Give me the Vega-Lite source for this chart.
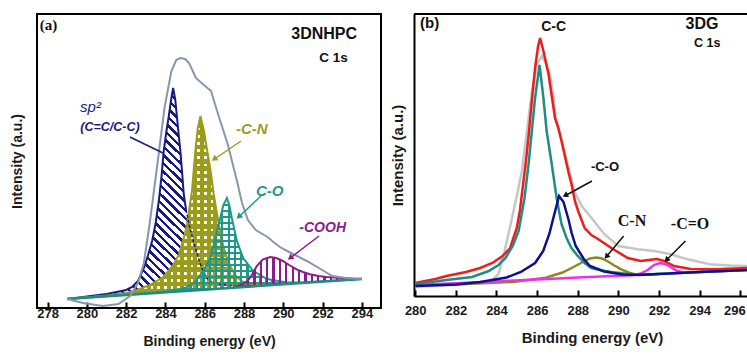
{
"$schema":"https://vega.github.io/schema/vega-lite/v6.json",
"background":"white",
"padding":{"left":9,"top":13,"right":0,"bottom":0},
"spacing":8,
"config":{"font":"Liberation Sans","view":{"stroke":"black","strokeWidth":2},
"axis":{"labelFont":"Liberation Sans","titleFont":"Liberation Sans","titleFontWeight":"bold","labelFontWeight":"bold","labelColor":"#1a1a1a","titleColor":"#1a1a1a","grid":false,"domainColor":"black","domainWidth":2,"tickColor":"black","tickWidth":2}},
"datasets":{
"a":[
{"s":"env","x":279,"y":9},{"s":"env","x":279.8,"y":5},{"s":"env","x":280.8,"y":2},{"s":"env","x":281.6,"y":4},{"s":"env","x":282.2,"y":12},{"s":"env","x":282.6,"y":25},{"s":"env","x":282.9,"y":45},{"s":"env","x":283.2,"y":85},{"s":"env","x":283.55,"y":138},{"s":"env","x":283.95,"y":200},{"s":"env","x":284.3,"y":237},{"s":"env","x":284.55,"y":248},{"s":"env","x":284.75,"y":250},{"s":"env","x":285.0,"y":249},{"s":"env","x":285.2,"y":245},{"s":"env","x":285.55,"y":230},{"s":"env","x":285.9,"y":224},{"s":"env","x":286.32,"y":217},{"s":"env","x":286.74,"y":190},{"s":"env","x":287.17,"y":164},{"s":"env","x":287.68,"y":124},{"s":"env","x":287.9,"y":105},{"s":"env","x":288.2,"y":88},{"s":"env","x":288.6,"y":78},{"s":"env","x":289.2,"y":71},{"s":"env","x":289.5,"y":66},{"s":"env","x":289.9,"y":60},{"s":"env","x":290.5,"y":54},{"s":"env","x":291.2,"y":47},{"s":"env","x":291.9,"y":39},{"s":"env","x":292.5,"y":32},{"s":"env","x":293.2,"y":30},{"s":"env","x":294,"y":29},
{"s":"sp2","x":279,"y":9,"b":9},{"s":"sp2","x":280,"y":11.5,"b":10.3},{"s":"sp2","x":281,"y":14,"b":11.7},{"s":"sp2","x":282,"y":18,"b":13},{"s":"sp2","x":282.3,"y":21,"b":13.4},{"s":"sp2","x":282.6,"y":27,"b":13.8},{"s":"sp2","x":282.9,"y":40,"b":14.2},{"s":"sp2","x":283.1,"y":52,"b":14.5},{"s":"sp2","x":283.32,"y":67,"b":14.8},{"s":"sp2","x":283.5,"y":85,"b":15},{"s":"sp2","x":283.66,"y":107,"b":15.2},{"s":"sp2","x":283.8,"y":132,"b":15.4},{"s":"sp2","x":283.91,"y":157,"b":15.5},{"s":"sp2","x":284.05,"y":177,"b":15.7},{"s":"sp2","x":284.17,"y":192,"b":15.9},{"s":"sp2","x":284.3,"y":210,"b":16.1},{"s":"sp2","x":284.39,"y":220,"b":16.2},{"s":"sp2","x":284.5,"y":208,"b":16.3},{"s":"sp2","x":284.59,"y":190,"b":16.5},{"s":"sp2","x":284.68,"y":172,"b":16.6},{"s":"sp2","x":284.76,"y":157,"b":16.7},{"s":"sp2","x":284.85,"y":135,"b":16.8},{"s":"sp2","x":284.93,"y":114,"b":16.9},{"s":"sp2","x":285.05,"y":98,"b":17.1},{"s":"sp2","x":285.2,"y":84,"b":17.3},{"s":"sp2","x":285.4,"y":68,"b":17.5},{"s":"sp2","x":285.6,"y":55,"b":17.8},{"s":"sp2","x":285.85,"y":40,"b":18.1},{"s":"sp2","x":286.1,"y":30,"b":18.5},{"s":"sp2","x":286.4,"y":25.5,"b":18.9},{"s":"sp2","x":286.8,"y":23.5,"b":19.4},{"s":"sp2","x":287.3,"y":22.5,"b":20.1},{"s":"sp2","x":288,"y":22,"b":21},{"s":"sp2","x":289,"y":22.5,"b":22.3},{"s":"sp2","x":290,"y":23.7,"b":23.7},
{"s":"cn","x":279,"y":9.5,"b":9},{"s":"cn","x":280,"y":10.8,"b":10.3},{"s":"cn","x":281,"y":12.5,"b":11.7},{"s":"cn","x":282,"y":15,"b":13},{"s":"cn","x":282.5,"y":17.5,"b":13.7},{"s":"cn","x":283.2,"y":23,"b":14.6},{"s":"cn","x":283.9,"y":31,"b":15.5},{"s":"cn","x":284.4,"y":43,"b":16.2},{"s":"cn","x":284.7,"y":54,"b":16.6},{"s":"cn","x":285.0,"y":75,"b":17},{"s":"cn","x":285.1,"y":84,"b":17.1},{"s":"cn","x":285.35,"y":117,"b":17.5},{"s":"cn","x":285.52,"y":157,"b":17.7},{"s":"cn","x":285.65,"y":180,"b":17.9},{"s":"cn","x":285.78,"y":192,"b":18},{"s":"cn","x":285.95,"y":178,"b":18.3},{"s":"cn","x":286.13,"y":157,"b":18.5},{"s":"cn","x":286.3,"y":137,"b":18.7},{"s":"cn","x":286.45,"y":115,"b":18.9},{"s":"cn","x":286.6,"y":97,"b":19.1},{"s":"cn","x":286.84,"y":70,"b":19.5},{"s":"cn","x":287.05,"y":55,"b":19.7},{"s":"cn","x":287.25,"y":44,"b":20},{"s":"cn","x":287.55,"y":33,"b":20.4},{"s":"cn","x":287.86,"y":27,"b":20.8},{"s":"cn","x":288.2,"y":24.5,"b":21.3},{"s":"cn","x":288.7,"y":23,"b":21.9},{"s":"cn","x":289.5,"y":23,"b":23},
{"s":"co","x":279,"y":9,"b":9},{"s":"co","x":281,"y":11.9,"b":11.7},{"s":"co","x":283,"y":14.8,"b":14.3},{"s":"co","x":284,"y":16.5,"b":15.7},{"s":"co","x":285,"y":20,"b":17},{"s":"co","x":285.5,"y":26,"b":17.7},{"s":"co","x":285.93,"y":37,"b":18.3},{"s":"co","x":286.28,"y":50,"b":18.7},{"s":"co","x":286.54,"y":70,"b":19.1},{"s":"co","x":286.79,"y":90,"b":19.4},{"s":"co","x":286.95,"y":103,"b":19.6},{"s":"co","x":287.13,"y":110,"b":19.8},{"s":"co","x":287.25,"y":103,"b":20},{"s":"co","x":287.38,"y":90,"b":20.2},{"s":"co","x":287.64,"y":67,"b":20.5},{"s":"co","x":287.96,"y":50,"b":20.9},{"s":"co","x":288.47,"y":37,"b":21.6},{"s":"co","x":289.17,"y":29,"b":22.6},{"s":"co","x":290.2,"y":25.5,"b":24},{"s":"co","x":291,"y":25.8,"b":25},{"s":"co","x":292,"y":26.8,"b":26.3},{"s":"co","x":294,"y":29,"b":29},
{"s":"cooh","x":287.5,"y":21,"b":20.7},{"s":"cooh","x":287.9,"y":23.5,"b":21.2},{"s":"cooh","x":288.2,"y":27.5,"b":21.6},{"s":"cooh","x":288.4,"y":33,"b":21.9},{"s":"cooh","x":288.65,"y":42,"b":22.2},{"s":"cooh","x":288.95,"y":48.5,"b":22.6},{"s":"cooh","x":289.33,"y":51,"b":23.1},{"s":"cooh","x":289.65,"y":50,"b":23.5},{"s":"cooh","x":289.98,"y":47,"b":24},{"s":"cooh","x":290.3,"y":43,"b":24.4},{"s":"cooh","x":290.68,"y":38.7,"b":24.9},{"s":"cooh","x":291,"y":36,"b":25.3},{"s":"cooh","x":291.36,"y":33.7,"b":25.8},{"s":"cooh","x":291.8,"y":32,"b":26.4},{"s":"cooh","x":292.2,"y":31,"b":26.9},{"s":"cooh","x":292.6,"y":30.5,"b":27.5},{"s":"cooh","x":293,"y":30,"b":28},{"s":"cooh","x":293.5,"y":29.5,"b":28.7},{"s":"cooh","x":294,"y":29.3,"b":29},
{"s":"base","x":279,"y":9},{"s":"base","x":294,"y":29}
],
"b":[
{"s":"env","x":280,"y":9},{"s":"env","x":281,"y":10},{"s":"env","x":282,"y":11},{"s":"env","x":283.3,"y":13},{"s":"env","x":283.8,"y":16},{"s":"env","x":284.1,"y":22},{"s":"env","x":284.4,"y":45},{"s":"env","x":284.7,"y":72},{"s":"env","x":285.0,"y":100},{"s":"env","x":285.25,"y":125},{"s":"env","x":285.5,"y":165},{"s":"env","x":285.75,"y":205},{"s":"env","x":286.0,"y":232},{"s":"env","x":286.23,"y":240},{"s":"env","x":286.45,"y":232},{"s":"env","x":286.63,"y":222},{"s":"env","x":286.8,"y":200},{"s":"env","x":286.9,"y":180},{"s":"env","x":287.05,"y":165},{"s":"env","x":287.2,"y":157},{"s":"env","x":287.5,"y":132},{"s":"env","x":287.85,"y":104},{"s":"env","x":288.2,"y":90},{"s":"env","x":288.6,"y":80},{"s":"env","x":289.3,"y":62},{"s":"env","x":290,"y":50},{"s":"env","x":290.95,"y":46.7},{"s":"env","x":291.76,"y":45},{"s":"env","x":292.58,"y":41.7},{"s":"env","x":293.4,"y":36.7},{"s":"env","x":294.5,"y":31.7},{"s":"env","x":295.5,"y":30.5},{"s":"env","x":296.43,"y":30},
{"s":"fit","x":280,"y":13},{"s":"fit","x":281,"y":17},{"s":"fit","x":281.54,"y":20},{"s":"fit","x":282.5,"y":24},{"s":"fit","x":283.2,"y":28},{"s":"fit","x":283.8,"y":33},{"s":"fit","x":284.3,"y":40},{"s":"fit","x":284.67,"y":48},{"s":"fit","x":285.0,"y":68},{"s":"fit","x":285.15,"y":85},{"s":"fit","x":285.3,"y":110},{"s":"fit","x":285.45,"y":135},{"s":"fit","x":285.58,"y":160},{"s":"fit","x":285.74,"y":195},{"s":"fit","x":285.9,"y":228},{"s":"fit","x":286.05,"y":250},{"s":"fit","x":286.15,"y":258},{"s":"fit","x":286.31,"y":245},{"s":"fit","x":286.56,"y":222},{"s":"fit","x":286.88,"y":178},{"s":"fit","x":287.05,"y":168},{"s":"fit","x":287.2,"y":155},{"s":"fit","x":287.53,"y":125},{"s":"fit","x":287.69,"y":112},{"s":"fit","x":287.86,"y":95},{"s":"fit","x":288.02,"y":85},{"s":"fit","x":288.34,"y":68},{"s":"fit","x":288.67,"y":61},{"s":"fit","x":289,"y":57},{"s":"fit","x":289.65,"y":48},{"s":"fit","x":290.46,"y":38},{"s":"fit","x":291.11,"y":35},{"s":"fit","x":291.5,"y":36},{"s":"fit","x":291.9,"y":37},{"s":"fit","x":292.25,"y":35},{"s":"fit","x":292.74,"y":30},{"s":"fit","x":293.56,"y":27},{"s":"fit","x":294.7,"y":26.7},{"s":"fit","x":296.43,"y":28},
{"s":"cc","x":280,"y":11.7},{"s":"cc","x":281.54,"y":16},{"s":"cc","x":282.8,"y":19},{"s":"cc","x":283.62,"y":25},{"s":"cc","x":284.1,"y":31},{"s":"cc","x":284.44,"y":38},{"s":"cc","x":284.8,"y":50},{"s":"cc","x":285.09,"y":65},{"s":"cc","x":285.38,"y":98},{"s":"cc","x":285.58,"y":132},{"s":"cc","x":285.74,"y":165},{"s":"cc","x":285.9,"y":198},{"s":"cc","x":286.12,"y":231},{"s":"cc","x":286.31,"y":198},{"s":"cc","x":286.47,"y":165},{"s":"cc","x":286.72,"y":132},{"s":"cc","x":286.96,"y":98},{"s":"cc","x":287.2,"y":72},{"s":"cc","x":287.45,"y":58},{"s":"cc","x":287.69,"y":48},{"s":"cc","x":288,"y":40},{"s":"cc","x":288.34,"y":33},{"s":"cc","x":288.67,"y":28},{"s":"cc","x":289.2,"y":25.5},{"s":"cc","x":289.65,"y":24},{"s":"cc","x":290.5,"y":22},{"s":"cc","x":291.5,"y":21.8},{"s":"cc","x":292.5,"y":22.5},{"s":"cc","x":294,"y":23.9},{"s":"cc","x":296.43,"y":26.1},
{"s":"co","x":280,"y":10},{"s":"co","x":282,"y":11.5},{"s":"co","x":283.2,"y":14},{"s":"co","x":284.5,"y":18.5},{"s":"co","x":285.2,"y":24},{"s":"co","x":285.9,"y":33},{"s":"co","x":286.3,"y":45},{"s":"co","x":286.6,"y":62},{"s":"co","x":286.85,"y":82},{"s":"co","x":287.08,"y":100},{"s":"co","x":287.3,"y":94},{"s":"co","x":287.55,"y":76},{"s":"co","x":287.7,"y":63},{"s":"co","x":287.9,"y":50},{"s":"co","x":288.3,"y":37},{"s":"co","x":288.6,"y":30},{"s":"co","x":289.3,"y":24.5},{"s":"co","x":290.2,"y":21.5},{"s":"co","x":291,"y":21},{"s":"co","x":292,"y":22},{"s":"co","x":294,"y":23.9},{"s":"co","x":296.43,"y":26.1},
{"s":"cn","x":280,"y":10.5},{"s":"cn","x":281.54,"y":11.5},{"s":"cn","x":283,"y":12.5},{"s":"cn","x":284.81,"y":14},{"s":"cn","x":286.42,"y":18.3},{"s":"cn","x":287.25,"y":23.5},{"s":"cn","x":287.7,"y":28},{"s":"cn","x":288.25,"y":34},{"s":"cn","x":288.6,"y":37.5},{"s":"cn","x":288.92,"y":38.5},{"s":"cn","x":289.2,"y":37.5},{"s":"cn","x":289.49,"y":34.5},{"s":"cn","x":289.8,"y":30.5},{"s":"cn","x":290.14,"y":26.7},{"s":"cn","x":290.5,"y":23.5},{"s":"cn","x":290.8,"y":21.7},{"s":"cn","x":291.44,"y":21.2},{"s":"cn","x":292,"y":22},
{"s":"ceo","x":280,"y":11},{"s":"ceo","x":282,"y":12.8},{"s":"ceo","x":284,"y":14.7},{"s":"ceo","x":286,"y":16.5},{"s":"ceo","x":288,"y":18.4},{"s":"ceo","x":290,"y":20.2},{"s":"ceo","x":290.7,"y":20.8},{"s":"ceo","x":291.1,"y":22.5},{"s":"ceo","x":291.44,"y":26},{"s":"ceo","x":291.75,"y":31},{"s":"ceo","x":292.05,"y":33},{"s":"ceo","x":292.3,"y":32},{"s":"ceo","x":292.58,"y":29},{"s":"ceo","x":292.85,"y":25.5},{"s":"ceo","x":293.2,"y":23.6},{"s":"ceo","x":294,"y":23.9},{"s":"ceo","x":296.43,"y":26.1}
]},
"hconcat":[
{"width":344,"height":294,
"layer":[
{"data":{"name":"a"},
"encoding":{
"x":{"field":"x","type":"quantitative","scale":{"domain":[277.455,294.98],"nice":false,"zero":false},
"axis":{"title":"Binding energy (eV)","titleFontSize":14,"titlePadding":14,"labelFontSize":13,"values":[278,279,280,281,282,283,284,285,286,287,288,289,290,291,292,293,294],"labelExpr":"datum.value % 2 == 0 ? datum.label : ''","tickSize":{"condition":{"test":"datum.value % 2 == 1","value":-3},"value":-6},"labelPadding":5,"domain":false,"labelFlush":false,"labelOverlap":false}},
"y":{"field":"y","type":"quantitative","scale":{"domain":[0,294],"nice":false,"zero":false},
"axis":{"title":"Intensity (a.u.)","labels":false,"ticks":false,"domain":false,"titleFontSize":14,"titlePadding":13}}},
"layer":[
{"transform":[{"filter":"datum.s=='sp2'"}],"mark":{"type":"area","fill":{"gradient":"linear","x1":0,"y1":1,"x2":1,"y2":0,"stops":[
{"offset":0,"color":"#1a1a80"},{"offset":0.008,"color":"#1a1a80"},{"offset":0.008,"color":"rgba(255,255,255,0)"},{"offset":0.02,"color":"rgba(255,255,255,0)"},
{"offset":0.02,"color":"#1a1a80"},{"offset":0.028,"color":"#1a1a80"},{"offset":0.028,"color":"rgba(255,255,255,0)"},{"offset":0.04,"color":"rgba(255,255,255,0)"},
{"offset":0.04,"color":"#1a1a80"},{"offset":0.048,"color":"#1a1a80"},{"offset":0.048,"color":"rgba(255,255,255,0)"},{"offset":0.06,"color":"rgba(255,255,255,0)"},
{"offset":0.06,"color":"#1a1a80"},{"offset":0.068,"color":"#1a1a80"},{"offset":0.068,"color":"rgba(255,255,255,0)"},{"offset":0.08,"color":"rgba(255,255,255,0)"},
{"offset":0.08,"color":"#1a1a80"},{"offset":0.088,"color":"#1a1a80"},{"offset":0.088,"color":"rgba(255,255,255,0)"},{"offset":0.1,"color":"rgba(255,255,255,0)"},
{"offset":0.1,"color":"#1a1a80"},{"offset":0.108,"color":"#1a1a80"},{"offset":0.108,"color":"rgba(255,255,255,0)"},{"offset":0.12,"color":"rgba(255,255,255,0)"},
{"offset":0.12,"color":"#1a1a80"},{"offset":0.128,"color":"#1a1a80"},{"offset":0.128,"color":"rgba(255,255,255,0)"},{"offset":0.14,"color":"rgba(255,255,255,0)"},
{"offset":0.14,"color":"#1a1a80"},{"offset":0.148,"color":"#1a1a80"},{"offset":0.148,"color":"rgba(255,255,255,0)"},{"offset":0.16,"color":"rgba(255,255,255,0)"},
{"offset":0.16,"color":"#1a1a80"},{"offset":0.168,"color":"#1a1a80"},{"offset":0.168,"color":"rgba(255,255,255,0)"},{"offset":0.18,"color":"rgba(255,255,255,0)"},
{"offset":0.18,"color":"#1a1a80"},{"offset":0.188,"color":"#1a1a80"},{"offset":0.188,"color":"rgba(255,255,255,0)"},{"offset":0.2,"color":"rgba(255,255,255,0)"},
{"offset":0.2,"color":"#1a1a80"},{"offset":0.208,"color":"#1a1a80"},{"offset":0.208,"color":"rgba(255,255,255,0)"},{"offset":0.22,"color":"rgba(255,255,255,0)"},
{"offset":0.22,"color":"#1a1a80"},{"offset":0.228,"color":"#1a1a80"},{"offset":0.228,"color":"rgba(255,255,255,0)"},{"offset":0.24,"color":"rgba(255,255,255,0)"},
{"offset":0.24,"color":"#1a1a80"},{"offset":0.248,"color":"#1a1a80"},{"offset":0.248,"color":"rgba(255,255,255,0)"},{"offset":0.26,"color":"rgba(255,255,255,0)"},
{"offset":0.26,"color":"#1a1a80"},{"offset":0.268,"color":"#1a1a80"},{"offset":0.268,"color":"rgba(255,255,255,0)"},{"offset":0.28,"color":"rgba(255,255,255,0)"},
{"offset":0.28,"color":"#1a1a80"},{"offset":0.288,"color":"#1a1a80"},{"offset":0.288,"color":"rgba(255,255,255,0)"},{"offset":0.3,"color":"rgba(255,255,255,0)"},
{"offset":0.3,"color":"#1a1a80"},{"offset":0.308,"color":"#1a1a80"},{"offset":0.308,"color":"rgba(255,255,255,0)"},{"offset":0.32,"color":"rgba(255,255,255,0)"},
{"offset":0.32,"color":"#1a1a80"},{"offset":0.328,"color":"#1a1a80"},{"offset":0.328,"color":"rgba(255,255,255,0)"},{"offset":0.34,"color":"rgba(255,255,255,0)"},
{"offset":0.34,"color":"#1a1a80"},{"offset":0.348,"color":"#1a1a80"},{"offset":0.348,"color":"rgba(255,255,255,0)"},{"offset":0.36,"color":"rgba(255,255,255,0)"},
{"offset":0.36,"color":"#1a1a80"},{"offset":0.368,"color":"#1a1a80"},{"offset":0.368,"color":"rgba(255,255,255,0)"},{"offset":0.38,"color":"rgba(255,255,255,0)"},
{"offset":0.38,"color":"#1a1a80"},{"offset":0.388,"color":"#1a1a80"},{"offset":0.388,"color":"rgba(255,255,255,0)"},{"offset":0.4,"color":"rgba(255,255,255,0)"},
{"offset":0.4,"color":"#1a1a80"},{"offset":0.408,"color":"#1a1a80"},{"offset":0.408,"color":"rgba(255,255,255,0)"},{"offset":0.42,"color":"rgba(255,255,255,0)"},
{"offset":0.42,"color":"#1a1a80"},{"offset":0.428,"color":"#1a1a80"},{"offset":0.428,"color":"rgba(255,255,255,0)"},{"offset":0.44,"color":"rgba(255,255,255,0)"},
{"offset":0.44,"color":"#1a1a80"},{"offset":0.448,"color":"#1a1a80"},{"offset":0.448,"color":"rgba(255,255,255,0)"},{"offset":0.46,"color":"rgba(255,255,255,0)"},
{"offset":0.46,"color":"#1a1a80"},{"offset":0.468,"color":"#1a1a80"},{"offset":0.468,"color":"rgba(255,255,255,0)"},{"offset":0.48,"color":"rgba(255,255,255,0)"},
{"offset":0.48,"color":"#1a1a80"},{"offset":0.488,"color":"#1a1a80"},{"offset":0.488,"color":"rgba(255,255,255,0)"},{"offset":0.5,"color":"rgba(255,255,255,0)"},
{"offset":0.5,"color":"#1a1a80"},{"offset":0.508,"color":"#1a1a80"},{"offset":0.508,"color":"rgba(255,255,255,0)"},{"offset":0.52,"color":"rgba(255,255,255,0)"},
{"offset":0.52,"color":"#1a1a80"},{"offset":0.528,"color":"#1a1a80"},{"offset":0.528,"color":"rgba(255,255,255,0)"},{"offset":0.54,"color":"rgba(255,255,255,0)"},
{"offset":0.54,"color":"#1a1a80"},{"offset":0.548,"color":"#1a1a80"},{"offset":0.548,"color":"rgba(255,255,255,0)"},{"offset":0.56,"color":"rgba(255,255,255,0)"},
{"offset":0.56,"color":"#1a1a80"},{"offset":0.568,"color":"#1a1a80"},{"offset":0.568,"color":"rgba(255,255,255,0)"},{"offset":0.58,"color":"rgba(255,255,255,0)"},
{"offset":0.58,"color":"#1a1a80"},{"offset":0.588,"color":"#1a1a80"},{"offset":0.588,"color":"rgba(255,255,255,0)"},{"offset":0.6,"color":"rgba(255,255,255,0)"},
{"offset":0.6,"color":"#1a1a80"},{"offset":0.608,"color":"#1a1a80"},{"offset":0.608,"color":"rgba(255,255,255,0)"},{"offset":0.62,"color":"rgba(255,255,255,0)"},
{"offset":0.62,"color":"#1a1a80"},{"offset":0.628,"color":"#1a1a80"},{"offset":0.628,"color":"rgba(255,255,255,0)"},{"offset":0.64,"color":"rgba(255,255,255,0)"},
{"offset":0.64,"color":"#1a1a80"},{"offset":0.648,"color":"#1a1a80"},{"offset":0.648,"color":"rgba(255,255,255,0)"},{"offset":0.66,"color":"rgba(255,255,255,0)"},
{"offset":0.66,"color":"#1a1a80"},{"offset":0.668,"color":"#1a1a80"},{"offset":0.668,"color":"rgba(255,255,255,0)"},{"offset":0.68,"color":"rgba(255,255,255,0)"},
{"offset":0.68,"color":"#1a1a80"},{"offset":0.688,"color":"#1a1a80"},{"offset":0.688,"color":"rgba(255,255,255,0)"},{"offset":0.7,"color":"rgba(255,255,255,0)"},
{"offset":0.7,"color":"#1a1a80"},{"offset":0.708,"color":"#1a1a80"},{"offset":0.708,"color":"rgba(255,255,255,0)"},{"offset":0.72,"color":"rgba(255,255,255,0)"},
{"offset":0.72,"color":"#1a1a80"},{"offset":0.728,"color":"#1a1a80"},{"offset":0.728,"color":"rgba(255,255,255,0)"},{"offset":0.74,"color":"rgba(255,255,255,0)"},
{"offset":0.74,"color":"#1a1a80"},{"offset":0.748,"color":"#1a1a80"},{"offset":0.748,"color":"rgba(255,255,255,0)"},{"offset":0.76,"color":"rgba(255,255,255,0)"},
{"offset":0.76,"color":"#1a1a80"},{"offset":0.768,"color":"#1a1a80"},{"offset":0.768,"color":"rgba(255,255,255,0)"},{"offset":0.78,"color":"rgba(255,255,255,0)"},
{"offset":0.78,"color":"#1a1a80"},{"offset":0.788,"color":"#1a1a80"},{"offset":0.788,"color":"rgba(255,255,255,0)"},{"offset":0.8,"color":"rgba(255,255,255,0)"},
{"offset":0.8,"color":"#1a1a80"},{"offset":0.808,"color":"#1a1a80"},{"offset":0.808,"color":"rgba(255,255,255,0)"},{"offset":0.82,"color":"rgba(255,255,255,0)"},
{"offset":0.82,"color":"#1a1a80"},{"offset":0.828,"color":"#1a1a80"},{"offset":0.828,"color":"rgba(255,255,255,0)"},{"offset":0.84,"color":"rgba(255,255,255,0)"},
{"offset":0.84,"color":"#1a1a80"},{"offset":0.848,"color":"#1a1a80"},{"offset":0.848,"color":"rgba(255,255,255,0)"},{"offset":0.86,"color":"rgba(255,255,255,0)"},
{"offset":0.86,"color":"#1a1a80"},{"offset":0.868,"color":"#1a1a80"},{"offset":0.868,"color":"rgba(255,255,255,0)"},{"offset":0.88,"color":"rgba(255,255,255,0)"},
{"offset":0.88,"color":"#1a1a80"},{"offset":0.888,"color":"#1a1a80"},{"offset":0.888,"color":"rgba(255,255,255,0)"},{"offset":0.9,"color":"rgba(255,255,255,0)"},
{"offset":0.9,"color":"#1a1a80"},{"offset":0.908,"color":"#1a1a80"},{"offset":0.908,"color":"rgba(255,255,255,0)"},{"offset":0.92,"color":"rgba(255,255,255,0)"},
{"offset":0.92,"color":"#1a1a80"},{"offset":0.928,"color":"#1a1a80"},{"offset":0.928,"color":"rgba(255,255,255,0)"},{"offset":0.94,"color":"rgba(255,255,255,0)"},
{"offset":0.94,"color":"#1a1a80"},{"offset":0.948,"color":"#1a1a80"},{"offset":0.948,"color":"rgba(255,255,255,0)"},{"offset":0.96,"color":"rgba(255,255,255,0)"},
{"offset":0.96,"color":"#1a1a80"},{"offset":0.968,"color":"#1a1a80"},{"offset":0.968,"color":"rgba(255,255,255,0)"},{"offset":0.98,"color":"rgba(255,255,255,0)"},
{"offset":0.98,"color":"#1a1a80"},{"offset":0.988,"color":"#1a1a80"},{"offset":0.988,"color":"rgba(255,255,255,0)"},{"offset":1,"color":"rgba(255,255,255,0)"}
]}},"encoding":{"y2":{"field":"b"}}},
{"transform":[{"filter":"datum.s=='sp2' && datum.x<=285.1"}],"mark":{"type":"line","color":"#1a1a80","strokeWidth":2}},
{"transform":[{"filter":"datum.s=='cn' && datum.x>=281"}],"mark":{"type":"area","fill":{"gradient":"linear","x1":0,"y1":0,"x2":1,"y2":0,"stops":[
{"offset":0,"color":"#9c9c1c"},{"offset":0.024,"color":"#9c9c1c"},{"offset":0.024,"color":"#ffffff"},{"offset":0.04,"color":"#ffffff"},
{"offset":0.04,"color":"#9c9c1c"},{"offset":0.064,"color":"#9c9c1c"},{"offset":0.064,"color":"#ffffff"},{"offset":0.08,"color":"#ffffff"},
{"offset":0.08,"color":"#9c9c1c"},{"offset":0.104,"color":"#9c9c1c"},{"offset":0.104,"color":"#ffffff"},{"offset":0.12,"color":"#ffffff"},
{"offset":0.12,"color":"#9c9c1c"},{"offset":0.144,"color":"#9c9c1c"},{"offset":0.144,"color":"#ffffff"},{"offset":0.16,"color":"#ffffff"},
{"offset":0.16,"color":"#9c9c1c"},{"offset":0.184,"color":"#9c9c1c"},{"offset":0.184,"color":"#ffffff"},{"offset":0.2,"color":"#ffffff"},
{"offset":0.2,"color":"#9c9c1c"},{"offset":0.224,"color":"#9c9c1c"},{"offset":0.224,"color":"#ffffff"},{"offset":0.24,"color":"#ffffff"},
{"offset":0.24,"color":"#9c9c1c"},{"offset":0.264,"color":"#9c9c1c"},{"offset":0.264,"color":"#ffffff"},{"offset":0.28,"color":"#ffffff"},
{"offset":0.28,"color":"#9c9c1c"},{"offset":0.304,"color":"#9c9c1c"},{"offset":0.304,"color":"#ffffff"},{"offset":0.32,"color":"#ffffff"},
{"offset":0.32,"color":"#9c9c1c"},{"offset":0.344,"color":"#9c9c1c"},{"offset":0.344,"color":"#ffffff"},{"offset":0.36,"color":"#ffffff"},
{"offset":0.36,"color":"#9c9c1c"},{"offset":0.384,"color":"#9c9c1c"},{"offset":0.384,"color":"#ffffff"},{"offset":0.4,"color":"#ffffff"},
{"offset":0.4,"color":"#9c9c1c"},{"offset":0.424,"color":"#9c9c1c"},{"offset":0.424,"color":"#ffffff"},{"offset":0.44,"color":"#ffffff"},
{"offset":0.44,"color":"#9c9c1c"},{"offset":0.464,"color":"#9c9c1c"},{"offset":0.464,"color":"#ffffff"},{"offset":0.48,"color":"#ffffff"},
{"offset":0.48,"color":"#9c9c1c"},{"offset":0.504,"color":"#9c9c1c"},{"offset":0.504,"color":"#ffffff"},{"offset":0.52,"color":"#ffffff"},
{"offset":0.52,"color":"#9c9c1c"},{"offset":0.544,"color":"#9c9c1c"},{"offset":0.544,"color":"#ffffff"},{"offset":0.56,"color":"#ffffff"},
{"offset":0.56,"color":"#9c9c1c"},{"offset":0.584,"color":"#9c9c1c"},{"offset":0.584,"color":"#ffffff"},{"offset":0.6,"color":"#ffffff"},
{"offset":0.6,"color":"#9c9c1c"},{"offset":0.624,"color":"#9c9c1c"},{"offset":0.624,"color":"#ffffff"},{"offset":0.64,"color":"#ffffff"},
{"offset":0.64,"color":"#9c9c1c"},{"offset":0.664,"color":"#9c9c1c"},{"offset":0.664,"color":"#ffffff"},{"offset":0.68,"color":"#ffffff"},
{"offset":0.68,"color":"#9c9c1c"},{"offset":0.704,"color":"#9c9c1c"},{"offset":0.704,"color":"#ffffff"},{"offset":0.72,"color":"#ffffff"},
{"offset":0.72,"color":"#9c9c1c"},{"offset":0.744,"color":"#9c9c1c"},{"offset":0.744,"color":"#ffffff"},{"offset":0.76,"color":"#ffffff"},
{"offset":0.76,"color":"#9c9c1c"},{"offset":0.784,"color":"#9c9c1c"},{"offset":0.784,"color":"#ffffff"},{"offset":0.8,"color":"#ffffff"},
{"offset":0.8,"color":"#9c9c1c"},{"offset":0.824,"color":"#9c9c1c"},{"offset":0.824,"color":"#ffffff"},{"offset":0.84,"color":"#ffffff"},
{"offset":0.84,"color":"#9c9c1c"},{"offset":0.864,"color":"#9c9c1c"},{"offset":0.864,"color":"#ffffff"},{"offset":0.88,"color":"#ffffff"},
{"offset":0.88,"color":"#9c9c1c"},{"offset":0.904,"color":"#9c9c1c"},{"offset":0.904,"color":"#ffffff"},{"offset":0.92,"color":"#ffffff"},
{"offset":0.92,"color":"#9c9c1c"},{"offset":0.944,"color":"#9c9c1c"},{"offset":0.944,"color":"#ffffff"},{"offset":0.96,"color":"#ffffff"},
{"offset":0.96,"color":"#9c9c1c"},{"offset":0.984,"color":"#9c9c1c"},{"offset":0.984,"color":"#ffffff"},{"offset":1,"color":"#ffffff"}
]}},"encoding":{"y2":{"field":"b"}}},
{"transform":[{"filter":"datum.s=='cn' && datum.x>=281"}],"mark":{"type":"area","fill":{"gradient":"linear","x1":0,"y1":0,"x2":0,"y2":1,"stops":[
{"offset":0,"color":"#9c9c1c"},{"offset":0.024,"color":"#9c9c1c"},{"offset":0.024,"color":"rgba(255,255,255,0)"},{"offset":0.04,"color":"rgba(255,255,255,0)"},
{"offset":0.04,"color":"#9c9c1c"},{"offset":0.064,"color":"#9c9c1c"},{"offset":0.064,"color":"rgba(255,255,255,0)"},{"offset":0.08,"color":"rgba(255,255,255,0)"},
{"offset":0.08,"color":"#9c9c1c"},{"offset":0.104,"color":"#9c9c1c"},{"offset":0.104,"color":"rgba(255,255,255,0)"},{"offset":0.12,"color":"rgba(255,255,255,0)"},
{"offset":0.12,"color":"#9c9c1c"},{"offset":0.144,"color":"#9c9c1c"},{"offset":0.144,"color":"rgba(255,255,255,0)"},{"offset":0.16,"color":"rgba(255,255,255,0)"},
{"offset":0.16,"color":"#9c9c1c"},{"offset":0.184,"color":"#9c9c1c"},{"offset":0.184,"color":"rgba(255,255,255,0)"},{"offset":0.2,"color":"rgba(255,255,255,0)"},
{"offset":0.2,"color":"#9c9c1c"},{"offset":0.224,"color":"#9c9c1c"},{"offset":0.224,"color":"rgba(255,255,255,0)"},{"offset":0.24,"color":"rgba(255,255,255,0)"},
{"offset":0.24,"color":"#9c9c1c"},{"offset":0.264,"color":"#9c9c1c"},{"offset":0.264,"color":"rgba(255,255,255,0)"},{"offset":0.28,"color":"rgba(255,255,255,0)"},
{"offset":0.28,"color":"#9c9c1c"},{"offset":0.304,"color":"#9c9c1c"},{"offset":0.304,"color":"rgba(255,255,255,0)"},{"offset":0.32,"color":"rgba(255,255,255,0)"},
{"offset":0.32,"color":"#9c9c1c"},{"offset":0.344,"color":"#9c9c1c"},{"offset":0.344,"color":"rgba(255,255,255,0)"},{"offset":0.36,"color":"rgba(255,255,255,0)"},
{"offset":0.36,"color":"#9c9c1c"},{"offset":0.384,"color":"#9c9c1c"},{"offset":0.384,"color":"rgba(255,255,255,0)"},{"offset":0.4,"color":"rgba(255,255,255,0)"},
{"offset":0.4,"color":"#9c9c1c"},{"offset":0.424,"color":"#9c9c1c"},{"offset":0.424,"color":"rgba(255,255,255,0)"},{"offset":0.44,"color":"rgba(255,255,255,0)"},
{"offset":0.44,"color":"#9c9c1c"},{"offset":0.464,"color":"#9c9c1c"},{"offset":0.464,"color":"rgba(255,255,255,0)"},{"offset":0.48,"color":"rgba(255,255,255,0)"},
{"offset":0.48,"color":"#9c9c1c"},{"offset":0.504,"color":"#9c9c1c"},{"offset":0.504,"color":"rgba(255,255,255,0)"},{"offset":0.52,"color":"rgba(255,255,255,0)"},
{"offset":0.52,"color":"#9c9c1c"},{"offset":0.544,"color":"#9c9c1c"},{"offset":0.544,"color":"rgba(255,255,255,0)"},{"offset":0.56,"color":"rgba(255,255,255,0)"},
{"offset":0.56,"color":"#9c9c1c"},{"offset":0.584,"color":"#9c9c1c"},{"offset":0.584,"color":"rgba(255,255,255,0)"},{"offset":0.6,"color":"rgba(255,255,255,0)"},
{"offset":0.6,"color":"#9c9c1c"},{"offset":0.624,"color":"#9c9c1c"},{"offset":0.624,"color":"rgba(255,255,255,0)"},{"offset":0.64,"color":"rgba(255,255,255,0)"},
{"offset":0.64,"color":"#9c9c1c"},{"offset":0.664,"color":"#9c9c1c"},{"offset":0.664,"color":"rgba(255,255,255,0)"},{"offset":0.68,"color":"rgba(255,255,255,0)"},
{"offset":0.68,"color":"#9c9c1c"},{"offset":0.704,"color":"#9c9c1c"},{"offset":0.704,"color":"rgba(255,255,255,0)"},{"offset":0.72,"color":"rgba(255,255,255,0)"},
{"offset":0.72,"color":"#9c9c1c"},{"offset":0.744,"color":"#9c9c1c"},{"offset":0.744,"color":"rgba(255,255,255,0)"},{"offset":0.76,"color":"rgba(255,255,255,0)"},
{"offset":0.76,"color":"#9c9c1c"},{"offset":0.784,"color":"#9c9c1c"},{"offset":0.784,"color":"rgba(255,255,255,0)"},{"offset":0.8,"color":"rgba(255,255,255,0)"},
{"offset":0.8,"color":"#9c9c1c"},{"offset":0.824,"color":"#9c9c1c"},{"offset":0.824,"color":"rgba(255,255,255,0)"},{"offset":0.84,"color":"rgba(255,255,255,0)"},
{"offset":0.84,"color":"#9c9c1c"},{"offset":0.864,"color":"#9c9c1c"},{"offset":0.864,"color":"rgba(255,255,255,0)"},{"offset":0.88,"color":"rgba(255,255,255,0)"},
{"offset":0.88,"color":"#9c9c1c"},{"offset":0.904,"color":"#9c9c1c"},{"offset":0.904,"color":"rgba(255,255,255,0)"},{"offset":0.92,"color":"rgba(255,255,255,0)"},
{"offset":0.92,"color":"#9c9c1c"},{"offset":0.944,"color":"#9c9c1c"},{"offset":0.944,"color":"rgba(255,255,255,0)"},{"offset":0.96,"color":"rgba(255,255,255,0)"},
{"offset":0.96,"color":"#9c9c1c"},{"offset":0.984,"color":"#9c9c1c"},{"offset":0.984,"color":"rgba(255,255,255,0)"},{"offset":1,"color":"rgba(255,255,255,0)"}
]}},"encoding":{"y2":{"field":"b"}}},
{"transform":[{"filter":"datum.s=='cn'"}],"mark":{"type":"line","color":"#9c9c1c","strokeWidth":2}},
{"transform":[{"filter":"datum.s=='sp2' && datum.x>=285.05"}],"mark":{"type":"line","color":"#1a1a80","strokeWidth":1.5,"strokeDash":[3,2]}},
{"transform":[{"filter":"datum.s=='co' && datum.x>=283 && datum.x<=291"}],"mark":{"type":"area","fill":{"gradient":"linear","x1":0,"y1":0,"x2":1,"y2":0,"stops":[
{"offset":0,"color":"#1f988c"},{"offset":0.014,"color":"#1f988c"},{"offset":0.014,"color":"rgba(255,255,255,0)"},{"offset":0.04,"color":"rgba(255,255,255,0)"},
{"offset":0.04,"color":"#1f988c"},{"offset":0.054,"color":"#1f988c"},{"offset":0.054,"color":"rgba(255,255,255,0)"},{"offset":0.08,"color":"rgba(255,255,255,0)"},
{"offset":0.08,"color":"#1f988c"},{"offset":0.094,"color":"#1f988c"},{"offset":0.094,"color":"rgba(255,255,255,0)"},{"offset":0.12,"color":"rgba(255,255,255,0)"},
{"offset":0.12,"color":"#1f988c"},{"offset":0.134,"color":"#1f988c"},{"offset":0.134,"color":"rgba(255,255,255,0)"},{"offset":0.16,"color":"rgba(255,255,255,0)"},
{"offset":0.16,"color":"#1f988c"},{"offset":0.174,"color":"#1f988c"},{"offset":0.174,"color":"rgba(255,255,255,0)"},{"offset":0.2,"color":"rgba(255,255,255,0)"},
{"offset":0.2,"color":"#1f988c"},{"offset":0.214,"color":"#1f988c"},{"offset":0.214,"color":"rgba(255,255,255,0)"},{"offset":0.24,"color":"rgba(255,255,255,0)"},
{"offset":0.24,"color":"#1f988c"},{"offset":0.254,"color":"#1f988c"},{"offset":0.254,"color":"rgba(255,255,255,0)"},{"offset":0.28,"color":"rgba(255,255,255,0)"},
{"offset":0.28,"color":"#1f988c"},{"offset":0.294,"color":"#1f988c"},{"offset":0.294,"color":"rgba(255,255,255,0)"},{"offset":0.32,"color":"rgba(255,255,255,0)"},
{"offset":0.32,"color":"#1f988c"},{"offset":0.334,"color":"#1f988c"},{"offset":0.334,"color":"rgba(255,255,255,0)"},{"offset":0.36,"color":"rgba(255,255,255,0)"},
{"offset":0.36,"color":"#1f988c"},{"offset":0.374,"color":"#1f988c"},{"offset":0.374,"color":"rgba(255,255,255,0)"},{"offset":0.4,"color":"rgba(255,255,255,0)"},
{"offset":0.4,"color":"#1f988c"},{"offset":0.414,"color":"#1f988c"},{"offset":0.414,"color":"rgba(255,255,255,0)"},{"offset":0.44,"color":"rgba(255,255,255,0)"},
{"offset":0.44,"color":"#1f988c"},{"offset":0.454,"color":"#1f988c"},{"offset":0.454,"color":"rgba(255,255,255,0)"},{"offset":0.48,"color":"rgba(255,255,255,0)"},
{"offset":0.48,"color":"#1f988c"},{"offset":0.494,"color":"#1f988c"},{"offset":0.494,"color":"rgba(255,255,255,0)"},{"offset":0.52,"color":"rgba(255,255,255,0)"},
{"offset":0.52,"color":"#1f988c"},{"offset":0.534,"color":"#1f988c"},{"offset":0.534,"color":"rgba(255,255,255,0)"},{"offset":0.56,"color":"rgba(255,255,255,0)"},
{"offset":0.56,"color":"#1f988c"},{"offset":0.574,"color":"#1f988c"},{"offset":0.574,"color":"rgba(255,255,255,0)"},{"offset":0.6,"color":"rgba(255,255,255,0)"},
{"offset":0.6,"color":"#1f988c"},{"offset":0.614,"color":"#1f988c"},{"offset":0.614,"color":"rgba(255,255,255,0)"},{"offset":0.64,"color":"rgba(255,255,255,0)"},
{"offset":0.64,"color":"#1f988c"},{"offset":0.654,"color":"#1f988c"},{"offset":0.654,"color":"rgba(255,255,255,0)"},{"offset":0.68,"color":"rgba(255,255,255,0)"},
{"offset":0.68,"color":"#1f988c"},{"offset":0.694,"color":"#1f988c"},{"offset":0.694,"color":"rgba(255,255,255,0)"},{"offset":0.72,"color":"rgba(255,255,255,0)"},
{"offset":0.72,"color":"#1f988c"},{"offset":0.734,"color":"#1f988c"},{"offset":0.734,"color":"rgba(255,255,255,0)"},{"offset":0.76,"color":"rgba(255,255,255,0)"},
{"offset":0.76,"color":"#1f988c"},{"offset":0.774,"color":"#1f988c"},{"offset":0.774,"color":"rgba(255,255,255,0)"},{"offset":0.8,"color":"rgba(255,255,255,0)"},
{"offset":0.8,"color":"#1f988c"},{"offset":0.814,"color":"#1f988c"},{"offset":0.814,"color":"rgba(255,255,255,0)"},{"offset":0.84,"color":"rgba(255,255,255,0)"},
{"offset":0.84,"color":"#1f988c"},{"offset":0.854,"color":"#1f988c"},{"offset":0.854,"color":"rgba(255,255,255,0)"},{"offset":0.88,"color":"rgba(255,255,255,0)"},
{"offset":0.88,"color":"#1f988c"},{"offset":0.894,"color":"#1f988c"},{"offset":0.894,"color":"rgba(255,255,255,0)"},{"offset":0.92,"color":"rgba(255,255,255,0)"},
{"offset":0.92,"color":"#1f988c"},{"offset":0.934,"color":"#1f988c"},{"offset":0.934,"color":"rgba(255,255,255,0)"},{"offset":0.96,"color":"rgba(255,255,255,0)"},
{"offset":0.96,"color":"#1f988c"},{"offset":0.974,"color":"#1f988c"},{"offset":0.974,"color":"rgba(255,255,255,0)"},{"offset":1,"color":"rgba(255,255,255,0)"}
]}},"encoding":{"y2":{"field":"b"}}},
{"transform":[{"filter":"datum.s=='co' && datum.x>=283 && datum.x<=291"}],"mark":{"type":"area","fill":{"gradient":"linear","x1":0,"y1":0,"x2":0,"y2":1,"stops":[
{"offset":0,"color":"#1f988c"},{"offset":0.022,"color":"#1f988c"},{"offset":0.022,"color":"rgba(255,255,255,0)"},{"offset":0.0625,"color":"rgba(255,255,255,0)"},
{"offset":0.0625,"color":"#1f988c"},{"offset":0.0845,"color":"#1f988c"},{"offset":0.0845,"color":"rgba(255,255,255,0)"},{"offset":0.125,"color":"rgba(255,255,255,0)"},
{"offset":0.125,"color":"#1f988c"},{"offset":0.147,"color":"#1f988c"},{"offset":0.147,"color":"rgba(255,255,255,0)"},{"offset":0.1875,"color":"rgba(255,255,255,0)"},
{"offset":0.1875,"color":"#1f988c"},{"offset":0.2095,"color":"#1f988c"},{"offset":0.2095,"color":"rgba(255,255,255,0)"},{"offset":0.25,"color":"rgba(255,255,255,0)"},
{"offset":0.25,"color":"#1f988c"},{"offset":0.272,"color":"#1f988c"},{"offset":0.272,"color":"rgba(255,255,255,0)"},{"offset":0.3125,"color":"rgba(255,255,255,0)"},
{"offset":0.3125,"color":"#1f988c"},{"offset":0.3345,"color":"#1f988c"},{"offset":0.3345,"color":"rgba(255,255,255,0)"},{"offset":0.375,"color":"rgba(255,255,255,0)"},
{"offset":0.375,"color":"#1f988c"},{"offset":0.397,"color":"#1f988c"},{"offset":0.397,"color":"rgba(255,255,255,0)"},{"offset":0.4375,"color":"rgba(255,255,255,0)"},
{"offset":0.4375,"color":"#1f988c"},{"offset":0.4595,"color":"#1f988c"},{"offset":0.4595,"color":"rgba(255,255,255,0)"},{"offset":0.5,"color":"rgba(255,255,255,0)"},
{"offset":0.5,"color":"#1f988c"},{"offset":0.522,"color":"#1f988c"},{"offset":0.522,"color":"rgba(255,255,255,0)"},{"offset":0.5625,"color":"rgba(255,255,255,0)"},
{"offset":0.5625,"color":"#1f988c"},{"offset":0.5845,"color":"#1f988c"},{"offset":0.5845,"color":"rgba(255,255,255,0)"},{"offset":0.625,"color":"rgba(255,255,255,0)"},
{"offset":0.625,"color":"#1f988c"},{"offset":0.647,"color":"#1f988c"},{"offset":0.647,"color":"rgba(255,255,255,0)"},{"offset":0.6875,"color":"rgba(255,255,255,0)"},
{"offset":0.6875,"color":"#1f988c"},{"offset":0.7095,"color":"#1f988c"},{"offset":0.7095,"color":"rgba(255,255,255,0)"},{"offset":0.75,"color":"rgba(255,255,255,0)"},
{"offset":0.75,"color":"#1f988c"},{"offset":0.772,"color":"#1f988c"},{"offset":0.772,"color":"rgba(255,255,255,0)"},{"offset":0.8125,"color":"rgba(255,255,255,0)"},
{"offset":0.8125,"color":"#1f988c"},{"offset":0.8345,"color":"#1f988c"},{"offset":0.8345,"color":"rgba(255,255,255,0)"},{"offset":0.875,"color":"rgba(255,255,255,0)"},
{"offset":0.875,"color":"#1f988c"},{"offset":0.897,"color":"#1f988c"},{"offset":0.897,"color":"rgba(255,255,255,0)"},{"offset":0.9375,"color":"rgba(255,255,255,0)"},
{"offset":0.9375,"color":"#1f988c"},{"offset":0.9595,"color":"#1f988c"},{"offset":0.9595,"color":"rgba(255,255,255,0)"},{"offset":1,"color":"rgba(255,255,255,0)"}
]}},"encoding":{"y2":{"field":"b"}}},
{"transform":[{"filter":"datum.s=='co'"}],"mark":{"type":"line","color":"#1f988c","strokeWidth":2}},
{"transform":[{"filter":"datum.s=='cooh'"}],"mark":{"type":"area","fill":{"gradient":"linear","x1":0,"y1":0,"x2":1,"y2":0,"stops":[
{"offset":0,"color":"#8c1c8c"},{"offset":0.0175,"color":"#8c1c8c"},{"offset":0.0175,"color":"rgba(255,255,255,0)"},{"offset":0.05,"color":"rgba(255,255,255,0)"},
{"offset":0.05,"color":"#8c1c8c"},{"offset":0.0675,"color":"#8c1c8c"},{"offset":0.0675,"color":"rgba(255,255,255,0)"},{"offset":0.1,"color":"rgba(255,255,255,0)"},
{"offset":0.1,"color":"#8c1c8c"},{"offset":0.1175,"color":"#8c1c8c"},{"offset":0.1175,"color":"rgba(255,255,255,0)"},{"offset":0.15,"color":"rgba(255,255,255,0)"},
{"offset":0.15,"color":"#8c1c8c"},{"offset":0.1675,"color":"#8c1c8c"},{"offset":0.1675,"color":"rgba(255,255,255,0)"},{"offset":0.2,"color":"rgba(255,255,255,0)"},
{"offset":0.2,"color":"#8c1c8c"},{"offset":0.2175,"color":"#8c1c8c"},{"offset":0.2175,"color":"rgba(255,255,255,0)"},{"offset":0.25,"color":"rgba(255,255,255,0)"},
{"offset":0.25,"color":"#8c1c8c"},{"offset":0.2675,"color":"#8c1c8c"},{"offset":0.2675,"color":"rgba(255,255,255,0)"},{"offset":0.3,"color":"rgba(255,255,255,0)"},
{"offset":0.3,"color":"#8c1c8c"},{"offset":0.3175,"color":"#8c1c8c"},{"offset":0.3175,"color":"rgba(255,255,255,0)"},{"offset":0.35,"color":"rgba(255,255,255,0)"},
{"offset":0.35,"color":"#8c1c8c"},{"offset":0.3675,"color":"#8c1c8c"},{"offset":0.3675,"color":"rgba(255,255,255,0)"},{"offset":0.4,"color":"rgba(255,255,255,0)"},
{"offset":0.4,"color":"#8c1c8c"},{"offset":0.4175,"color":"#8c1c8c"},{"offset":0.4175,"color":"rgba(255,255,255,0)"},{"offset":0.45,"color":"rgba(255,255,255,0)"},
{"offset":0.45,"color":"#8c1c8c"},{"offset":0.4675,"color":"#8c1c8c"},{"offset":0.4675,"color":"rgba(255,255,255,0)"},{"offset":0.5,"color":"rgba(255,255,255,0)"},
{"offset":0.5,"color":"#8c1c8c"},{"offset":0.5175,"color":"#8c1c8c"},{"offset":0.5175,"color":"rgba(255,255,255,0)"},{"offset":0.55,"color":"rgba(255,255,255,0)"},
{"offset":0.55,"color":"#8c1c8c"},{"offset":0.5675,"color":"#8c1c8c"},{"offset":0.5675,"color":"rgba(255,255,255,0)"},{"offset":0.6,"color":"rgba(255,255,255,0)"},
{"offset":0.6,"color":"#8c1c8c"},{"offset":0.6175,"color":"#8c1c8c"},{"offset":0.6175,"color":"rgba(255,255,255,0)"},{"offset":0.65,"color":"rgba(255,255,255,0)"},
{"offset":0.65,"color":"#8c1c8c"},{"offset":0.6675,"color":"#8c1c8c"},{"offset":0.6675,"color":"rgba(255,255,255,0)"},{"offset":0.7,"color":"rgba(255,255,255,0)"},
{"offset":0.7,"color":"#8c1c8c"},{"offset":0.7175,"color":"#8c1c8c"},{"offset":0.7175,"color":"rgba(255,255,255,0)"},{"offset":0.75,"color":"rgba(255,255,255,0)"},
{"offset":0.75,"color":"#8c1c8c"},{"offset":0.7675,"color":"#8c1c8c"},{"offset":0.7675,"color":"rgba(255,255,255,0)"},{"offset":0.8,"color":"rgba(255,255,255,0)"},
{"offset":0.8,"color":"#8c1c8c"},{"offset":0.8175,"color":"#8c1c8c"},{"offset":0.8175,"color":"rgba(255,255,255,0)"},{"offset":0.85,"color":"rgba(255,255,255,0)"},
{"offset":0.85,"color":"#8c1c8c"},{"offset":0.8675,"color":"#8c1c8c"},{"offset":0.8675,"color":"rgba(255,255,255,0)"},{"offset":0.9,"color":"rgba(255,255,255,0)"},
{"offset":0.9,"color":"#8c1c8c"},{"offset":0.9175,"color":"#8c1c8c"},{"offset":0.9175,"color":"rgba(255,255,255,0)"},{"offset":0.95,"color":"rgba(255,255,255,0)"},
{"offset":0.95,"color":"#8c1c8c"},{"offset":0.9675,"color":"#8c1c8c"},{"offset":0.9675,"color":"rgba(255,255,255,0)"},{"offset":1,"color":"rgba(255,255,255,0)"}
]}},"encoding":{"y2":{"field":"b"}}},
{"transform":[{"filter":"datum.s=='cooh'"}],"mark":{"type":"line","color":"#8c1c8c","strokeWidth":2}},
{"transform":[{"filter":"datum.s=='base'"}],"mark":{"type":"line","color":"#1f8c84","strokeWidth":2.5}},
{"transform":[{"filter":"datum.s=='env'"}],"mark":{"type":"line","color":"#8796b0","strokeWidth":2}}
]},
{"data":{"values":[{"t":1}]},"mark":{"type":"text","text":"(a)","font":"Liberation Serif","fontWeight":"bold","fontSize":15,"align":"left","baseline":"middle","color":"#111"},"encoding":{"x":{"datum":277.6,"type":"quantitative"},"y":{"datum":283,"type":"quantitative"}}},
{"data":{"values":[{"t":1}]},"mark":{"type":"text","text":"3DNHPC","fontWeight":"bold","fontSize":16,"align":"right","baseline":"middle","color":"#111"},"encoding":{"x":{"datum":293.76,"type":"quantitative"},"y":{"datum":274.5,"type":"quantitative"}}},
{"data":{"values":[{"t":1}]},"mark":{"type":"text","text":"C 1s","fontWeight":"bold","fontSize":13.5,"align":"center","baseline":"middle","color":"#111"},"encoding":{"x":{"datum":292.56,"type":"quantitative"},"y":{"datum":250,"type":"quantitative"}}},
{"data":{"values":[{"t":1}]},"mark":{"type":"text","text":"sp²","fontStyle":"italic","fontSize":15,"align":"left","baseline":"middle","color":"#1a1a80"},"encoding":{"x":{"datum":279.65,"type":"quantitative"},"y":{"datum":201,"type":"quantitative"}}},
{"data":{"values":[{"t":1}]},"mark":{"type":"text","text":"(C=C/C-C)","fontStyle":"italic","fontWeight":"bold","fontSize":12.5,"align":"left","baseline":"middle","color":"#1a1a80"},"encoding":{"x":{"datum":279.66,"type":"quantitative"},"y":{"datum":181,"type":"quantitative"}}},
{"data":{"values":[{"t":1}]},"mark":{"type":"text","text":"-C-N","fontStyle":"italic","fontWeight":"bold","fontSize":15,"align":"left","baseline":"middle","color":"#9c9c1c"},"encoding":{"x":{"datum":287.59,"type":"quantitative"},"y":{"datum":179.5,"type":"quantitative"}}},
{"data":{"values":[{"t":1}]},"mark":{"type":"text","text":"C-O","fontStyle":"italic","fontWeight":"bold","fontSize":15,"align":"left","baseline":"middle","color":"#1f988c"},"encoding":{"x":{"datum":288.61,"type":"quantitative"},"y":{"datum":117,"type":"quantitative"}}},
{"data":{"values":[{"t":1}]},"mark":{"type":"text","text":"-COOH","fontStyle":"italic","fontWeight":"bold","fontSize":14,"align":"left","baseline":"middle","color":"#8c1c8c"},"encoding":{"x":{"datum":290.82,"type":"quantitative"},"y":{"datum":80,"type":"quantitative"}}},
{"data":{"values":[{"t":1}]},"mark":{"type":"rule","color":"#1a1a80","strokeWidth":1.5},"encoding":{"x":{"datum":282.19,"type":"quantitative"},"y":{"datum":171,"type":"quantitative"},"x2":{"datum":283.87},"y2":{"datum":155}}},
{"data":{"values":[{"t":1}]},"mark":{"type":"rule","color":"#9c9c1c","strokeWidth":1.5},"encoding":{"x":{"datum":287.85,"type":"quantitative"},"y":{"datum":167,"type":"quantitative"},"x2":{"datum":286.5},"y2":{"datum":149}}},
{"data":{"values":[{"t":1}]},"mark":{"type":"point","shape":"triangle","filled":true,"size":45,"angle":236,"color":"#9c9c1c","opacity":1},"encoding":{"x":{"datum":286.52,"type":"quantitative"},"y":{"datum":149.5,"type":"quantitative"}}},
{"data":{"values":[{"t":1}]},"mark":{"type":"rule","color":"#1f988c","strokeWidth":1.5},"encoding":{"x":{"datum":288.87,"type":"quantitative"},"y":{"datum":112,"type":"quantitative"},"x2":{"datum":287.75},"y2":{"datum":91.5}}},
{"data":{"values":[{"t":1}]},"mark":{"type":"point","shape":"triangle","filled":true,"size":45,"angle":227,"color":"#1f988c","opacity":1},"encoding":{"x":{"datum":287.77,"type":"quantitative"},"y":{"datum":92,"type":"quantitative"}}},
{"data":{"values":[{"t":1}]},"mark":{"type":"rule","color":"#8c1c8c","strokeWidth":1.5},"encoding":{"x":{"datum":291.82,"type":"quantitative"},"y":{"datum":72,"type":"quantitative"},"x2":{"datum":290.37},"y2":{"datum":50.2}}},
{"data":{"values":[{"t":1}]},"mark":{"type":"point","shape":"triangle","filled":true,"size":45,"angle":232,"color":"#8c1c8c","opacity":1},"encoding":{"x":{"datum":290.39,"type":"quantitative"},"y":{"datum":50.6,"type":"quantitative"}}}
]},
{"width":335,"height":282,
"view":{"stroke":null},
"layer":[
{"data":{"name":"b"},
"encoding":{
"x":{"field":"x","type":"quantitative","scale":{"domain":[279.94,296.43],"nice":false,"zero":false},
"axis":{"title":"Binding energy (eV)","titleFontSize":15,"titlePadding":13,"titleX":178,"labelFontSize":13,"values":[280,281,282,283,284,285,286,287,288,289,290,291,292,293,294,295,296],"labelExpr":"datum.value % 2 == 0 ? datum.label : ''","tickSize":{"condition":{"test":"datum.value % 2 == 1","value":-3},"value":-6},"labelOffset":{"condition":{"test":"datum.value == 296","value":-6},"value":0},"labelPadding":14,"domain":true,"labelFlush":false,"labelOverlap":false}},
"y":{"field":"y","type":"quantitative","scale":{"domain":[0,282],"nice":false,"zero":false},
"axis":{"title":"Intensity (a.u.)","labels":false,"ticks":false,"domain":true,"titleFontSize":15,"titlePadding":8.5}}},
"layer":[
{"transform":[{"filter":"datum.s=='env'"}],"mark":{"type":"line","color":"#c6c6c6","strokeWidth":2.5}},
{"transform":[{"filter":"datum.s=='fit'"}],"mark":{"type":"line","color":"#f01c1c","strokeWidth":2.5}},
{"transform":[{"filter":"datum.s=='cn'"}],"mark":{"type":"line","color":"#8c8a1e","strokeWidth":2.5}},
{"transform":[{"filter":"datum.s=='ceo'"}],"mark":{"type":"line","color":"#ee30ee","strokeWidth":2.5}},
{"transform":[{"filter":"datum.s=='cc'"}],"mark":{"type":"line","color":"#1f8c85","strokeWidth":2.5}},
{"transform":[{"filter":"datum.s=='co'"}],"mark":{"type":"line","color":"#10108a","strokeWidth":2.5}}
]},
{"data":{"values":[{"t":1}]},"mark":{"type":"rule","color":"black","strokeWidth":2},"encoding":{"x":{"datum":279.94,"type":"quantitative"},"x2":{"datum":296.43},"y":{"datum":282,"type":"quantitative"}}},
{"data":{"values":[{"t":1}]},"mark":{"type":"text","text":"(b)","fontWeight":"bold","fontSize":15,"align":"left","baseline":"middle","color":"#111"},"encoding":{"x":{"datum":280.24,"type":"quantitative"},"y":{"datum":273,"type":"quantitative"}}},
{"data":{"values":[{"t":1}]},"mark":{"type":"text","text":"C-C","fontWeight":"bold","fontSize":14,"align":"center","baseline":"middle","color":"#111"},"encoding":{"x":{"datum":286.81,"type":"quantitative"},"y":{"datum":269,"type":"quantitative"}}},
{"data":{"values":[{"t":1}]},"mark":{"type":"text","text":"3DG","fontWeight":"bold","fontSize":16,"align":"center","baseline":"middle","color":"#111"},"encoding":{"x":{"datum":294.12,"type":"quantitative"},"y":{"datum":272.5,"type":"quantitative"}}},
{"data":{"values":[{"t":1}]},"mark":{"type":"text","text":"C 1s","fontWeight":"bold","fontSize":12.5,"align":"center","baseline":"middle","color":"#111"},"encoding":{"x":{"datum":294.37,"type":"quantitative"},"y":{"datum":253,"type":"quantitative"}}},
{"data":{"values":[{"t":1}]},"mark":{"type":"text","text":"-C-O","fontWeight":"bold","fontSize":13,"align":"center","baseline":"middle","color":"#111"},"encoding":{"x":{"datum":289.34,"type":"quantitative"},"y":{"datum":129,"type":"quantitative"}}},
{"data":{"values":[{"t":1}]},"mark":{"type":"text","text":"C-N","font":"Liberation Serif","fontWeight":"bold","fontSize":16,"align":"center","baseline":"middle","color":"#111"},"encoding":{"x":{"datum":290.67,"type":"quantitative"},"y":{"datum":75,"type":"quantitative"}}},
{"data":{"values":[{"t":1}]},"mark":{"type":"text","text":"-C=O","font":"Liberation Serif","fontWeight":"bold","fontSize":16,"align":"center","baseline":"middle","color":"#111"},"encoding":{"x":{"datum":293.53,"type":"quantitative"},"y":{"datum":72,"type":"quantitative"}}},
{"data":{"values":[{"t":1}]},"mark":{"type":"rule","color":"#111","strokeWidth":1.5},"encoding":{"x":{"datum":288.7,"type":"quantitative"},"y":{"datum":115,"type":"quantitative"},"x2":{"datum":287.4},"y2":{"datum":100.5}}},
{"data":{"values":[{"t":1}]},"mark":{"type":"point","shape":"triangle","filled":true,"size":40,"angle":242,"color":"#111","opacity":1},"encoding":{"x":{"datum":287.42,"type":"quantitative"},"y":{"datum":101,"type":"quantitative"}}},
{"data":{"values":[{"t":1}]},"mark":{"type":"rule","color":"#111","strokeWidth":1.5},"encoding":{"x":{"datum":290.26,"type":"quantitative"},"y":{"datum":60,"type":"quantitative"},"x2":{"datum":289.42},"y2":{"datum":39.5}}},
{"data":{"values":[{"t":1}]},"mark":{"type":"point","shape":"triangle","filled":true,"size":40,"angle":220,"color":"#111","opacity":1},"encoding":{"x":{"datum":289.44,"type":"quantitative"},"y":{"datum":40,"type":"quantitative"}}},
{"data":{"values":[{"t":1}]},"mark":{"type":"rule","color":"#111","strokeWidth":1.5},"encoding":{"x":{"datum":293.3,"type":"quantitative"},"y":{"datum":55,"type":"quantitative"},"x2":{"datum":292.38},"y2":{"datum":36.2}}},
{"data":{"values":[{"t":1}]},"mark":{"type":"point","shape":"triangle","filled":true,"size":40,"angle":225,"color":"#111","opacity":1},"encoding":{"x":{"datum":292.4,"type":"quantitative"},"y":{"datum":36.6,"type":"quantitative"}}}
]}
]}
